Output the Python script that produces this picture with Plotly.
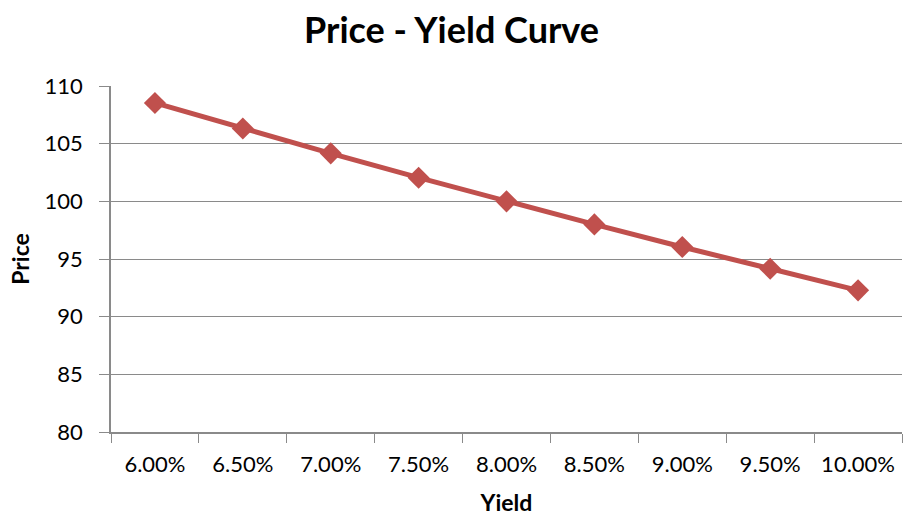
import plotly.graph_objects as go

# Price of the bond at each yield level
yields = ["6.00%", "6.50%", "7.00%", "7.50%", "8.00%", "8.50%", "9.00%", "9.50%", "10.00%"]
prices = [108.53, 106.31, 104.16, 102.05, 100.00, 98.00, 96.04, 94.16, 92.28]

y_ticks = [80, 85, 90, 95, 100, 105, 110]

font_family = "Lato, Open Sans, Liberation Sans, sans-serif"
grid_color = "#8A8A8A"

fig = go.Figure(
    go.Scatter(
        x=yields,
        y=prices,
        mode="lines+markers",
        line=dict(color="#C0504D", width=5),
        marker=dict(symbol="diamond", size=17, color="#C0504D"),
        showlegend=False,
    )
)

fig.update_layout(
    width=903,
    height=516,
    paper_bgcolor="white",
    plot_bgcolor="white",
    margin=dict(l=111, r=1, t=86, b=84, autoexpand=False),
    font=dict(family=font_family, color="#000000"),
    title=dict(
        text="<b>Price - Yield Curve</b>",
        x=0.5,
        xref="container",
        xanchor="center",
        y=0.942,
        yref="container",
        yanchor="middle",
        font=dict(size=36, family=font_family),
    ),
    xaxis=dict(
        type="category",
        range=[-0.5, len(yields) - 0.5],
        tickson="boundaries",
        ticks="outside",
        ticklen=9,
        tickcolor=grid_color,
        showline=True,
        linecolor=grid_color,
        linewidth=1.5,
        showgrid=False,
        automargin=False,
        ticklabelstandoff=12,
        tickfont=dict(size=22),
        title=dict(text="<b>Yield</b>", font=dict(size=23), standoff=27),
    ),
    yaxis=dict(
        range=[80, 110],
        tickvals=y_ticks,
        ticks="outside",
        ticklen=10,
        tickcolor=grid_color,
        showline=True,
        linecolor=grid_color,
        linewidth=1.5,
        showgrid=True,
        gridcolor=grid_color,
        gridwidth=1.2,
        zeroline=False,
        automargin=False,
        ticklabelstandoff=12,
        tickfont=dict(size=22),
        title=dict(text="<b>Price</b>", font=dict(size=23), standoff=9),
    ),
)

fig.write_html("out.html")
